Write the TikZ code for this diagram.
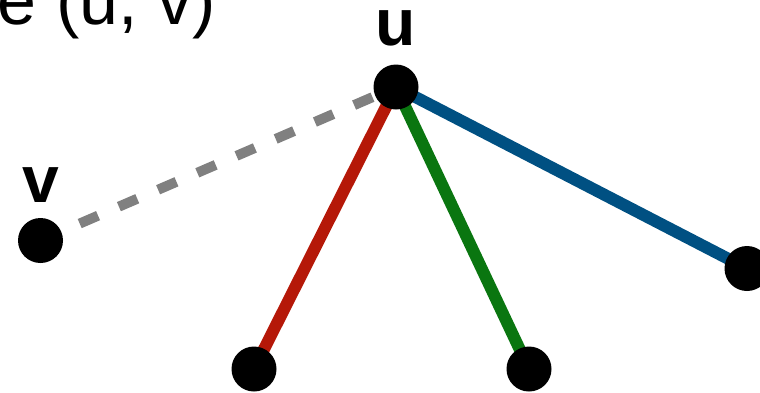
\documentclass[tikz,border=0pt]{standalone}
\usepackage{fontspec}
\setmainfont{Liberation Sans}
\definecolor{ered}{RGB}{181,24,8}
\definecolor{egreen}{RGB}{10,118,16}
\definecolor{eblue}{RGB}{0,80,130}
\definecolor{egray}{RGB}{128,128,128}
\tikzset{
  vtx/.style={circle, fill=black, minimum size=45pt, inner sep=0pt},
  edgeline/.style={line width=12pt},
  lbl/.style={font=\fontsize{66}{76}\selectfont\bfseries, inner sep=0pt, anchor=base},
}
\begin{document}
\begin{tikzpicture}[x=1pt,y=-1pt]
\useasboundingbox (0,0) rectangle (760,392);
\coordinate (cu) at (396,87);
\coordinate (cv) at (40.5,240.5);
\coordinate (ca) at (254,369);
\coordinate (cb) at (529,369);
\coordinate (cc) at (747,268.5);
\draw[line width=10pt, egray, dash pattern=on 20pt off 22.7pt] (cv) -- (cu);
\draw[edgeline, ered] (cu) -- (ca);
\draw[edgeline, egreen] (cu) -- (cb);
\draw[edgeline, eblue] (cu) -- (cc);
\node[vtx] (u) at (cu) {};
\node[vtx] (v) at (cv) {};
\node[vtx] (a) at (ca) {};
\node[vtx] (b) at (cb) {};
\node[vtx] (c) at (cc) {};
\node[lbl] (lu) at (396,45) {u};
\node[lbl] (lv) at (41,202) {v};
\node[font=\fontsize{70}{84}\selectfont, inner sep=0pt, anchor=base east] (title) at (216,24) {e (u, v)};
\end{tikzpicture}
\end{document}
